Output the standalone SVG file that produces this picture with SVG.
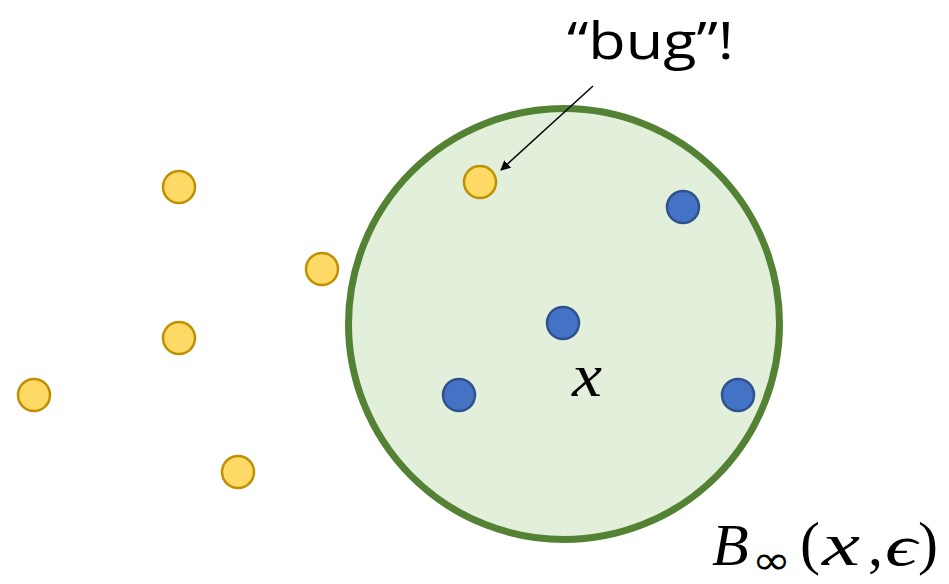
<svg xmlns="http://www.w3.org/2000/svg" width="949" height="584" viewBox="0 0 949 584">
<style>
.y{fill:#ffd966;stroke:#bf9000;stroke-width:2.5}
.b{fill:#4472c4;stroke:#2f528f;stroke-width:2.5}
.m{font-family:"Liberation Serif",serif;font-style:italic;fill:#000}
.r{font-family:"Liberation Serif",serif;fill:#000}
</style>
<defs>
<marker id="ah" viewBox="0 0 10 10" refX="9" refY="5" markerWidth="10" markerHeight="10" markerUnits="userSpaceOnUse" orient="auto"><path d="M0,0 L10,5 L0,10 z" fill="#000"/></marker>
</defs>
<rect width="949" height="584" fill="#fff"/>
<g id="ball"><circle cx="564" cy="324" r="215.5" fill="#e2efda" stroke="#548235" stroke-width="7"/></g>
<g id="yellow">
<circle class="y" cx="179" cy="187" r="16"/>
<circle class="y" cx="322" cy="269" r="16"/>
<circle class="y" cx="179" cy="338" r="16"/>
<circle class="y" cx="34" cy="395" r="16"/>
<circle class="y" cx="238" cy="472" r="16"/>
<circle class="y" cx="480" cy="182" r="16"/>
</g>
<g id="blue">
<circle class="b" cx="683" cy="207" r="16"/>
<circle class="b" cx="563" cy="323" r="16"/>
<circle class="b" cx="459" cy="395" r="16"/>
<circle class="b" cx="738" cy="395" r="16"/>
</g>
<g id="connectors"><line x1="593" y1="86" x2="501" y2="170" stroke="#000" stroke-width="1.5" marker-end="url(#ah)"/></g>
<g id="labels">
<text x="567" y="59" font-family="'Open Sans',sans-serif" font-size="52" textLength="167" lengthAdjust="spacingAndGlyphs">“bug”!</text>
<text class="m" x="572" y="396" font-size="62" textLength="30" lengthAdjust="spacingAndGlyphs">x</text>
<text class="m" x="712" y="565" font-size="60">B</text>
<text x="752" y="574" font-family="'DejaVu Sans',sans-serif" font-size="40" fill="#000" textLength="39" lengthAdjust="spacingAndGlyphs">∞</text>
<text class="r" x="800" y="563" font-size="60">(</text>
<text class="m" x="822" y="565" font-size="62" textLength="38" lengthAdjust="spacingAndGlyphs">x</text>
<text class="r" x="868" y="565" font-size="60">,</text>
<text class="m" x="885" y="565" font-size="58" textLength="32" lengthAdjust="spacingAndGlyphs">ϵ</text>
<text class="r" x="918" y="563" font-size="60">)</text>
</g>
</svg>
